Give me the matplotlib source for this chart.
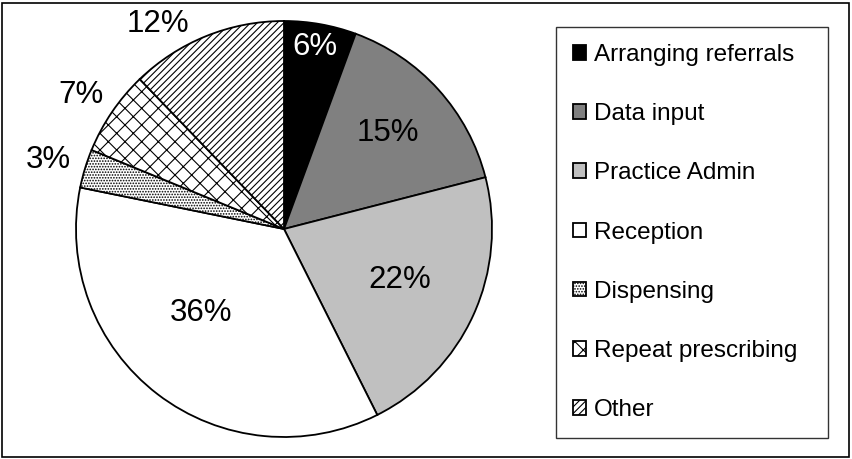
import numpy as np
import matplotlib
matplotlib.use("Agg")
import matplotlib.pyplot as plt
from matplotlib.patches import Rectangle

plt.rcParams['font.family'] = ['Liberation Sans', 'DejaVu Sans']
plt.rcParams['hatch.linewidth'] = 0.8

categories = ["Arranging referrals", "Data input", "Practice Admin", "Reception",
              "Dispensing", "Repeat prescribing", "Other"]
values = [5.6, 15.4, 21.6, 35.6, 3.0, 6.6, 12.2]
pct_labels = ["6%", "15%", "22%", "36%", "3%", "7%", "12%"]

colors = ["#000000", "#808080", "#c0c0c0", "#ffffff", "#ffffff", "#ffffff", "#ffffff"]
hatches = [None, None, None, None, "......", "xx", "/////"]
label_r = [0.89, 0.68, 0.61, 0.57, 1.18, 1.17, 1.157]
label_dang = [0.4, 0.9, 0.8, -7.3, 0.5, 0.7, 9.6]

W, H = 852, 459
fig = plt.figure(figsize=(W / 100, H / 100), dpi=100)
fig.patches.append(Rectangle((2 / W, 2 / H), (W - 5) / W, (H - 5) / H,
                             transform=fig.transFigure, fill=False,
                             edgecolor="black", linewidth=1.2))

cx, cy, r = 284, 230, 208
ax = fig.add_axes([(cx - r) / W, (cy - r) / H, 2 * r / W, 2 * r / H])
wedges, _ = ax.pie(values, colors=colors, startangle=90, counterclock=False,
                   radius=1.0,
                   wedgeprops=dict(edgecolor="black", linewidth=1.3))
for w, h in zip(wedges, hatches):
    if h:
        w.set_hatch(h)
ax.set_xlim(-1, 1)
ax.set_ylim(-1, 1)
ax.set_aspect("equal")
ax.axis("off")

for w, lab, rr, da in zip(wedges, pct_labels, label_r, label_dang):
    ang = np.deg2rad((w.theta1 + w.theta2) / 2 + da)
    ax.text(rr * np.cos(ang), rr * np.sin(ang), lab, ha="center", va="center",
            fontsize=22.5, color="black" if w.get_facecolor()[0] > 0.2 else "white",
            clip_on=False)

leg = fig.legend(wedges, categories, loc="upper left",
                 bbox_to_anchor=(556 / W, 1 - 27 / H, 272 / W, 0), mode="expand",
                 fontsize=17.5,
                 frameon=True, fancybox=False, shadow=False,
                 handlelength=0.55, handleheight=0.55, handletextpad=0.3,
                 labelspacing=1.53, borderpad=0.7, borderaxespad=0)
leg.get_frame().set_edgecolor("black")
leg.get_frame().set_linewidth(1.0)

fig.savefig("out.png", dpi=100)
